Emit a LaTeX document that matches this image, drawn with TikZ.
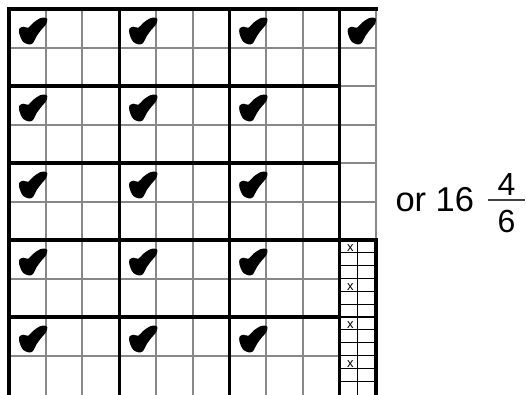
\documentclass[tikz,border=0pt]{standalone}
\usepackage{fontspec}
\setmainfont{Liberation Sans}
\definecolor{gridgray}{RGB}{136,136,136}
\begin{document}
\begin{tikzpicture}[x=1pt,y=-1pt,
  graylinestyle/.style={draw=gridgray, line width=2pt},
  thicklinestyle/.style={draw=black, line width=3.2pt, line cap=rect},
  sublinestyle/.style={draw=black, line width=1.3pt},
  chkmark/.pic={\fill[black] plot[smooth cycle, tension=0.55] coordinates {
     (10.3,19.7) (14.3,17.7) (19.3,18.7) (24.3,13.7) (31,9.3) (36,8.7)
     (38.3,10.3) (37,15.3) (32.7,20.3) (27.7,27) (23.7,34.3) (19.3,35.3)
     (14.3,33) (11.7,28.7) (10.3,24.7)};}]
\useasboundingbox (0,0) rectangle (526,394);
% gray cell lines
\foreach \k in {1,2,4,5,7,8} \draw[graylinestyle] ({9+\k*36.7},9) -- ({9+\k*36.7},396);
\draw[graylinestyle] (376,9) -- (376,240);
\foreach \m in {1,3,5,7,9} \draw[graylinestyle] (9,{9+\m*38.5}) -- (339.3,{9+\m*38.5});
\foreach \m in {1,...,5} \draw[graylinestyle] (339.3,{9+\m*38.5}) -- (376,{9+\m*38.5});
% subdivision of last column
\foreach \j in {1,...,11} \draw[sublinestyle] (339.3,{240+\j*12.833}) -- (376,{240+\j*12.833});
\draw[sublinestyle] (357.6,240) -- (357.6,396);
% thick block lines
\foreach \xx in {9,119.1,229.2,339.3} \draw[thicklinestyle] (\xx,9) -- (\xx,396);
\draw[thicklinestyle] (9,9) -- (376,9);
\draw[thicklinestyle] (9,86) -- (339.3,86);
\draw[thicklinestyle] (9,163) -- (339.3,163);
\draw[thicklinestyle] (9,240) -- (376,240);
\draw[thicklinestyle] (9,317) -- (339.3,317);
\draw[thicklinestyle] (376,240) -- (376,396);
% check marks
\foreach \i in {0,1,2} \foreach \j in {0,...,4} \pic at ({9+\i*110.1},{9+\j*77}) {chkmark};
\pic at (337.7,9) {chkmark};
% x marks
\foreach \n in {0,...,3}
  \node[font=\fontsize{13}{13}\selectfont, anchor=base, inner sep=0pt] (x\n) at (350.3,{251.7+\n*38.5}) {x};
% text
\node[anchor=base west, inner sep=0pt, font=\fontsize{34.5}{36}\selectfont] (ortext) at (395.3,211.7) {or 16};
\node[anchor=base, inner sep=0pt, font=\fontsize{32}{34}\selectfont] (num) at (506.5,195) {4};
\node[anchor=base, inner sep=0pt, font=\fontsize{32}{34}\selectfont] (den) at (506.5,232.8) {6};
\coordinate (barL) at (488,200);
\coordinate (barR) at (525,200);
\draw[black!75, line width=1.5pt] (barL) -- (barR);
\end{tikzpicture}
\end{document}
